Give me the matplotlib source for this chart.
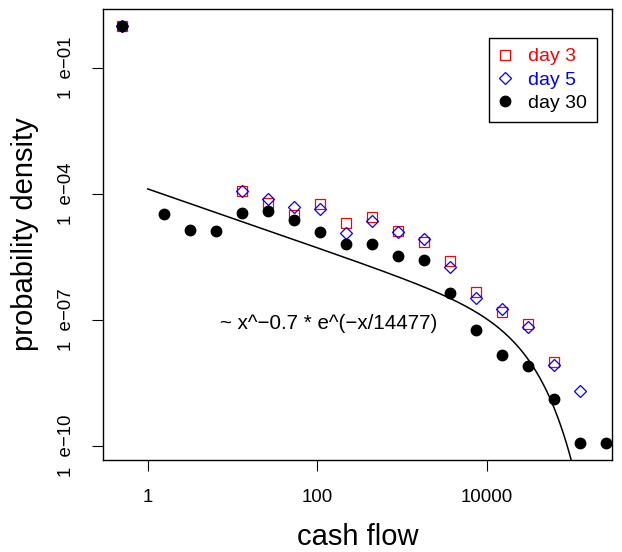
import numpy as np
import matplotlib
matplotlib.use("Agg")
import matplotlib.pyplot as plt

plt.rcParams['font.family'] = ['Liberation Sans', 'DejaVu Sans']

# cash flow bins (shared x positions)
bins = [0.5, 1.55, 3.15, 6.34, 12.8, 26.0, 52.7, 107, 216, 438, 888,
        1800, 3670, 7500, 15200, 30500, 61800, 125000, 253000]

# day 3 starts at bin 0, then from 12.8 on
day3_x = [bins[0]] + bins[4:17]
day3_y = [1.0, 1.18e-4, 6.11e-5, 3.06e-5, 5.60e-5, 2.00e-5, 2.83e-5, 1.27e-5,
          7.19e-6, 2.50e-6, 4.65e-7, 1.55e-7, 7.91e-8, 9.84e-9]

day5_x = [bins[0]] + bins[4:18]
day5_y = [1.0, 1.18e-4, 7.60e-5, 4.74e-5, 4.33e-5, 1.18e-5, 2.28e-5, 1.21e-5,
          8.20e-6, 1.83e-6, 3.24e-7, 1.83e-7, 6.59e-8, 8.20e-9, 2.04e-9]

day30_x = bins
day30_y = [1.0, 3.34e-5, 1.39e-5, 1.32e-5, 3.53e-5, 3.81e-5, 2.37e-5, 1.22e-5,
           6.46e-6, 6.46e-6, 3.24e-6, 2.57e-6, 4.40e-7, 5.60e-8, 1.42e-8,
           7.76e-9, 1.29e-9, 1.14e-10, 1.14e-10]

# fitted curve ~ C * x^-0.7 * exp(-x/14477)
fit_c = 1.3e-4
fit_alpha = 0.7
fit_scale = 14477

fig = plt.figure(figsize=(6.22, 5.52), dpi=100)
ax = fig.add_axes([0.1656, 0.1667, 0.9839 - 0.1656, 0.9837 - 0.1667])
ax.set_xscale('log')
ax.set_yscale('log')

xs = np.logspace(0, 5.6, 500)
ax.plot(xs, fit_c * xs ** (-fit_alpha) * np.exp(-xs / fit_scale), color='black', lw=1.1)

ax.plot(day3_x, day3_y, 's', ms=6.5, mfc='none', mec='red', mew=0.9, label='day 3', zorder=3)
ax.plot(day5_x, day5_y, 'D', ms=6.5, mfc='none', mec='blue', mew=0.9, label='day 5', zorder=4)
ax.plot(day30_x, day30_y, 'o', ms=7.5, color='black', label='day 30', zorder=5)

ax.text(137, 8.3e-8, '~ x^\u22120.7 * e^(\u2212x/14477)', fontsize=14.8,
        ha='center', va='center')

ax.set_xlim(10 ** -0.527, 10 ** 5.475)
ax.set_ylim(10 ** -10.34, 10 ** 0.397)

ax.set_xticks([1, 100, 10000])
ax.set_xticklabels(['1', '100', '10000'])
ax.set_yticks([1e-1, 1e-4, 1e-7, 1e-10])
ax.set_yticklabels(['1  e\u221201', '1  e\u221204', '1  e\u221207', '1  e\u221210'],
                   rotation=90, va='center')
ax.minorticks_off()
ax.tick_params(direction='out', length=8, width=0.8, labelsize=13.4)
ax.tick_params(axis='x', pad=13)
ax.tick_params(axis='y', pad=12)

for s in ax.spines.values():
    s.set_linewidth(1.0)

ax.set_xlabel('cash flow', fontsize=21, labelpad=12)
ax.set_ylabel('probability density', fontsize=21, labelpad=14)

leg = ax.legend(loc='upper right', bbox_to_anchor=(0.9705, 0.9357), borderaxespad=0,
                fontsize=14, fancybox=False, framealpha=1, edgecolor='black',
                handletextpad=0.9, handlelength=0.6, labelspacing=0.3,
                borderpad=0.5, labelcolor=['red', 'blue', 'black'])
leg.get_frame().set_linewidth(1.0)

fig.savefig('out.png', dpi=100)
